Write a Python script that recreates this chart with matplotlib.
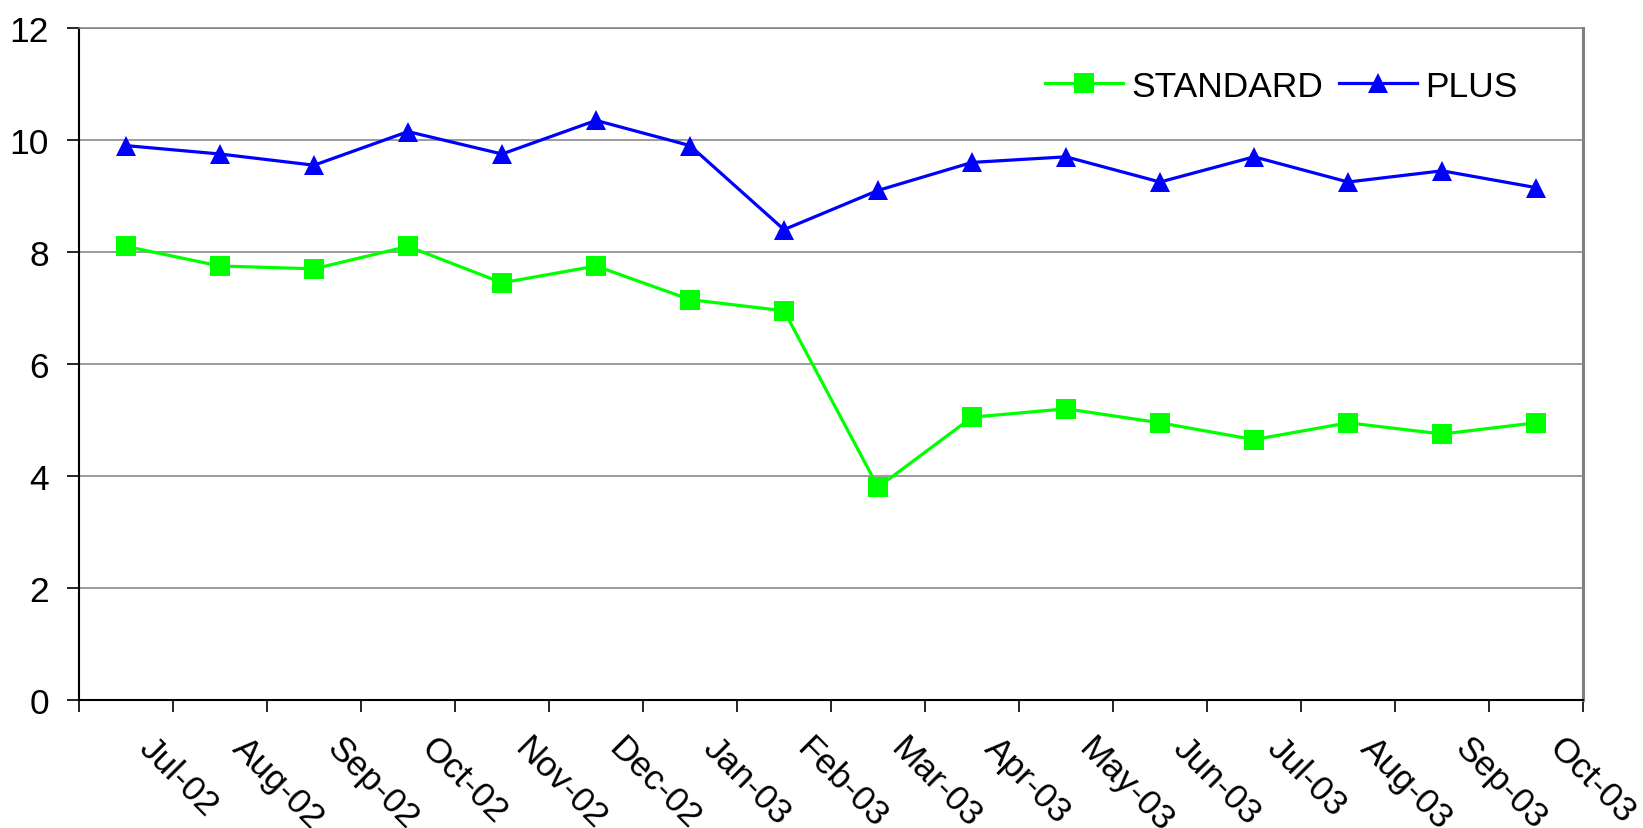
import matplotlib
matplotlib.use("Agg")
import matplotlib.pyplot as plt
from matplotlib.transforms import ScaledTranslation
import numpy as np

months = ["Jul-02", "Aug-02", "Sep-02", "Oct-02", "Nov-02", "Dec-02",
          "Jan-03", "Feb-03", "Mar-03", "Apr-03", "May-03", "Jun-03",
          "Jul-03", "Aug-03", "Sep-03", "Oct-03"]
standard = [8.1, 7.75, 7.7, 8.1, 7.45, 7.75, 7.15, 6.95,
            3.8, 5.05, 5.2, 4.95, 4.65, 4.95, 4.75, 4.95]
plus = [9.9, 9.75, 9.55, 10.15, 9.75, 10.35, 9.9, 8.4,
        9.1, 9.6, 9.7, 9.25, 9.7, 9.25, 9.45, 9.15]
y_ticks = [0, 2, 4, 6, 8, 10, 12]

plt.rcParams['font.family'] = ['Liberation Sans', 'DejaVu Sans']
FS = 25.5

fig = plt.figure(figsize=(16.43, 8.29), dpi=100)
ax = fig.add_axes([0.0481, 0.1544, 0.9635 - 0.0481, 0.965 - 0.1544])

x = np.arange(len(months))
ax.plot(x, standard, color="#00FF00", lw=2.3, marker="s", markersize=14,
        markeredgewidth=0, label="STANDARD", zorder=3)
ax.plot(x, plus, color="#0000FF", lw=2.3, marker="^", markersize=14.5,
        markeredgewidth=0, label="PLUS", zorder=3)

ax.set_xlim(-0.5, len(months) - 0.5)
ax.set_ylim(0, 12)

# horizontal gridlines
ax.set_yticks(y_ticks)
ax.yaxis.grid(True, color="#808080", lw=1.1)
ax.set_axisbelow(True)

# category boundaries as major ticks, labels at category centres
ax.set_xticks(np.arange(len(months) + 1) - 0.5)
ax.set_xticklabels([])
ax.set_xticks(x, minor=True)
ax.set_xticklabels(months, minor=True, rotation=-45, rotation_mode="anchor",
                   ha="left", va="top", fontsize=FS)
ax.tick_params(axis="x", which="major", direction="out", length=8.6,
               width=1.2, color="black")
ax.tick_params(axis="x", which="minor", length=0, pad=22)
for lab in ax.get_xticklabels(minor=True):
    lab.set_transform(lab.get_transform() +
                      ScaledTranslation(0.295, 0, fig.dpi_scale_trans))

ax.tick_params(axis="y", direction="out", length=8.6, width=1.2,
               color="black", labelsize=FS, pad=13)

for side in ("left", "bottom"):
    ax.spines[side].set_color("black")
    ax.spines[side].set_linewidth(1.5)
ax.spines["top"].set_color("#808080")
ax.spines["top"].set_linewidth(1.1)
ax.spines["right"].set_color("#808080")
ax.spines["right"].set_linewidth(2.2)

leg = ax.legend(loc="center", bbox_to_anchor=(0.7797, 0.895),
                bbox_transform=fig.transFigure, ncol=2, frameon=False,
                fontsize=FS, handlelength=2.2, handletextpad=0.23,
                columnspacing=0.45, numpoints=1, borderpad=0)

fig.savefig("out.png", dpi=100, facecolor="white")
